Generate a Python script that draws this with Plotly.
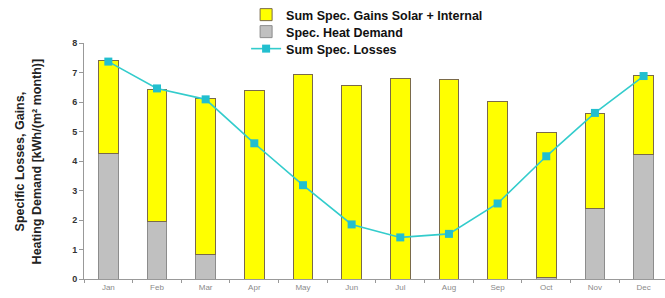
import plotly.graph_objects as go

months = ["Jan", "Feb", "Mar", "Apr", "May", "Jun", "Jul", "Aug", "Sep", "Oct", "Nov", "Dec"]
heat_demand = [4.26, 1.96, 0.84, 0.0, 0.0, 0.0, 0.0, 0.0, 0.0, 0.04, 2.39, 4.22]
gains_total = [7.40, 6.44, 6.13, 6.38, 6.92, 6.55, 6.81, 6.76, 6.03, 4.96, 5.60, 6.90]
gains = [round(t - h, 2) for t, h in zip(gains_total, heat_demand)]
losses = [7.37, 6.46, 6.09, 4.60, 3.18, 1.85, 1.41, 1.53, 2.56, 4.16, 5.63, 6.88]

fig = go.Figure()
fig.add_trace(go.Bar(
    x=months, y=heat_demand, name="Spec. Heat Demand",
    marker=dict(color="#C0C0C0", line=dict(color="#8C8C8C", width=1)),
    legend="legend2",
))
fig.add_trace(go.Bar(
    x=months, y=gains, name="Sum Spec. Gains Solar + Internal",
    marker=dict(color="#FFFF00", line=dict(color="#7A6A4A", width=1)),
    legend="legend",
))
fig.add_trace(go.Scatter(
    x=months, y=losses, name="Sum Spec. Losses", mode="lines+markers",
    line=dict(color="#33CCCC", width=1.6),
    marker=dict(symbol="square", size=8, color="#22BFCF"),
    legend="legend3",
))

leg_common = dict(
    xanchor="left", yanchor="middle", x=0.279,
    bgcolor="rgba(0,0,0,0)",
    font=dict(size=12.5, weight="bold", color="#111"),
    itemwidth=30, visible=True,
)

fig.update_layout(
    width=665, height=298,
    showlegend=True,
    margin=dict(l=84, r=0, t=43, b=19, autoexpand=False),
    paper_bgcolor="white", plot_bgcolor="white",
    barmode="stack", bargap=0.6,
    font=dict(family="Liberation Sans, Arial", color="#222"),
    legend=dict(y=1 + (43 - 15) / 236, **leg_common),
    legend2=dict(y=1 + (43 - 32) / 236, **leg_common),
    legend3=dict(y=1 + (43 - 49) / 236, **leg_common),
    xaxis=dict(
        range=[-0.5, 11.44], showgrid=False, showline=True,
        linecolor="#999999", linewidth=1,
        ticks="outside", tickson="boundaries", ticklen=3, tickcolor="#999999",
        tickfont=dict(size=8, color="#8A8A8A"),
    ),
    yaxis=dict(
        range=[0, 8], dtick=1, showgrid=False, showline=True,
        linecolor="#999999", linewidth=1,
        ticks="outside", ticklen=4, tickcolor="#999999",
        tickfont=dict(size=9, weight="bold", color="#333"),
        zeroline=False,
    ),
    annotations=[dict(
        text="Specific Losses, Gains,<br>Heating Demand [kWh/(m² month)]",
        xref="paper", yref="paper", x=-0.0957, y=0.5,
        xanchor="center", yanchor="middle", textangle=-90,
        showarrow=False, font=dict(size=12.5, weight="bold", color="#222"),
    )],
)

fig.write_html("out.html", config={"displayModeBar": False},
               post_script="document.body.style.margin='0';")
